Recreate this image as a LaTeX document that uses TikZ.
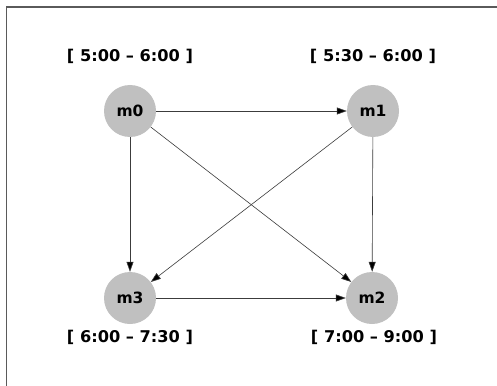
\documentclass[tikz,border=0pt]{standalone}
\usepackage{fontspec}
\setmainfont{DejaVu Sans}
\usetikzlibrary{arrows.meta}
\definecolor{nodegray}{RGB}{192,192,192}
\definecolor{edgegray}{RGB}{60,60,60}
\definecolor{framegray}{RGB}{90,90,90}
\begin{document}
\begin{tikzpicture}[x=1pt,y=-1pt,
  state/.style={circle,fill=nodegray,minimum size=52pt,inner sep=0pt,font=\fontsize{15.5}{18}\selectfont\bfseries},
  tlabel/.style={font=\fontsize{16.2}{19}\selectfont\bfseries,inner sep=0pt},
  edge/.style={draw=edgegray,line width=0.6pt,-{Triangle[length=10pt,width=7pt,fill=black]}}]
\useasboundingbox (0,0) rectangle (497,385);
\fill[white] (0,0) rectangle (497,385);
\draw[line width=1.2pt,framegray] (6.5,386) -- (6.5,7) -- (498,7);
\node[state] (m0) at (130,111) {m0};
\node[state] (m1) at (373,111) {m1};
\node[state] (m3) at (130,298) {m3};
\node[state] (m2) at (372,298) {m2};
\node[tlabel] (l0) at (130,56) {[ 5:00 – 6:00 ]};
\node[tlabel] (l1) at (373,56) {[ 5:30 – 6:00 ]};
\node[tlabel] (l3) at (130,337) {[ 6:00 – 7:30 ]};
\node[tlabel] (l2) at (374,337) {[ 7:00 – 9:00 ]};
\draw[edge] (m0) -- (m1);
\draw[edge] (m0) -- (m3);
\draw[edge] (m0) -- (m2);
\draw[edge] (m1) -- (m3);
\draw[edge] (m1) -- (m2);
\draw[edge] (m3) -- (m2);
\end{tikzpicture}
\end{document}
